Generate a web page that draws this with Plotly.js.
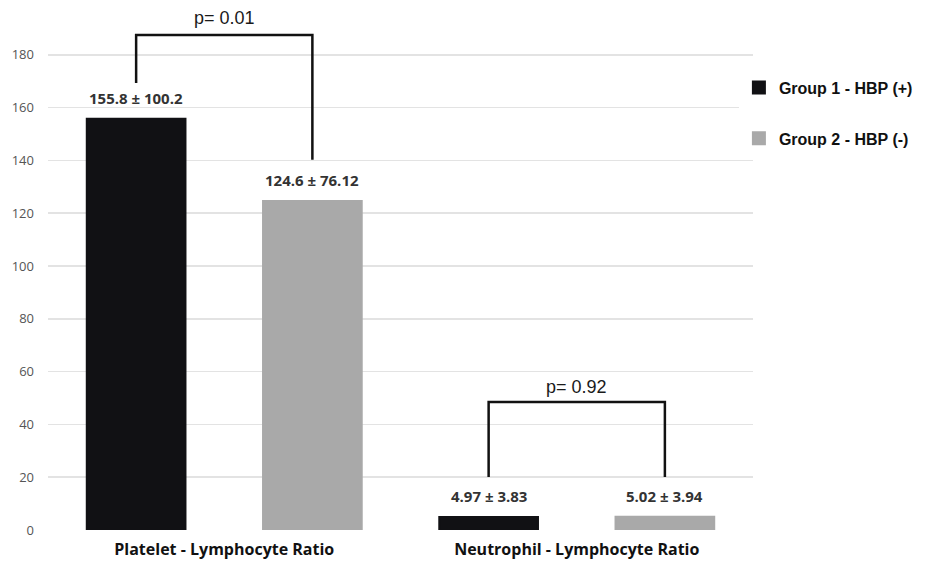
<!DOCTYPE html>
<html>
<head>
<meta charset="utf-8">
<script src="https://cdn.plot.ly/plotly-3.0.1.min.js"></script>
<style>html,body{margin:0;padding:0;background:#fff;}#chart{width:925px;height:567px;}</style>
</head>
<body>
<div id="chart"></div>
<script>
const categories = ["Platelet - Lymphocyte Ratio", "Neutrophil - Lymphocyte Ratio"];
const seriesNames = ["Group 1 - HBP (+)", "Group 2 - HBP (-)"];
const group1Mean = [155.8, 4.97];
const group1SD = ["100.2", "3.83"];
const group2Mean = [124.6, 5.02];
const group2SD = ["76.12", "3.94"];
const pValues = ["0.01", "0.92"];
const yTicks = [0, 20, 40, 60, 80, 100, 120, 140, 160, 180];

const colors = ["#111114", "#a9a9a9"];
const boldFont = "Open Sans, sans-serif";

const traces = [
  {type: "bar", name: "<b>" + seriesNames[0] + "</b>", x: categories, y: group1Mean,
   marker: {color: colors[0], line: {color: colors[0], width: 2}}, legendgroup: "g1", hoverinfo: "skip"},
  {type: "bar", name: "<b>" + seriesNames[1] + "</b>", x: categories, y: group2Mean,
   marker: {color: colors[1], line: {color: colors[1], width: 2}}, legendgroup: "g2", hoverinfo: "skip"}
];

const annotations = [];
const shapes = [];
const offset = 0.25;
categories.forEach((c, i) => {
  annotations.push({x: i - offset, y: group1Mean[i], xref: "x", yref: "y",
    text: "<b>" + group1Mean[i] + " ± " + group1SD[i] + "</b>",
    showarrow: false, yanchor: "bottom", yshift: 9,
    font: {family: boldFont, size: 15, color: "#333"}});
  annotations.push({x: i + offset, y: group2Mean[i], xref: "x", yref: "y",
    text: "<b>" + group2Mean[i] + " ± " + group2SD[i] + "</b>",
    showarrow: false, yanchor: "bottom", yshift: 9,
    font: {family: boldFont, size: 15, color: "#333"}});
});

// significance brackets (positions in data units)
const brackets = [
  {left: 169.3, right: 140.2, top: 187.5, label: 193.9},
  {left: 20.1, right: 20.1, top: 48.5, label: 54.2}
];
brackets.forEach((b, i) => {
  shapes.push({type: "path", xref: "x", yref: "y",
    path: "M " + (i - offset) + "," + b.left + " L " + (i - offset) + "," + b.top +
          " L " + (i + offset) + "," + b.top + " L " + (i + offset) + "," + b.right,
    line: {color: "#111", width: 2.5}});
  annotations.push({x: i, y: b.label, xref: "x", yref: "y", text: "p= " + pValues[i],
    showarrow: false, font: {family: "Liberation Sans, Arial, sans-serif", size: 18, color: "#1a1a1a"}});
});

const layout = {
  width: 925, height: 567,
  margin: {l: 48, r: 172, t: 2, b: 37},
  paper_bgcolor: "#fff", plot_bgcolor: "#fff",
  barmode: "group", bargap: 0, bargroupgap: 0.44,
  showlegend: true,
  legend: {x: 0.98, xanchor: "left", y: 0.87, yanchor: "top",
    traceorder: "grouped", tracegroupgap: 27,
    font: {family: "Liberation Sans, Arial, sans-serif", size: 16, color: "#111"},
    itemclick: false},
  xaxis: {type: "category", range: [-0.5, 1.5], showgrid: false, zeroline: false, showline: false,
    ticks: "", ticklabelstandoff: 8, tickfont: {family: boldFont, size: 16, color: "#111"},
    ticktext: categories.map(c => "<b>" + c + "</b>"), tickvals: categories, tickmode: "array"},
  yaxis: {range: [0, 200], tickvals: yTicks, ticktext: yTicks.map(String), tickmode: "array",
    showgrid: true, gridcolor: "#e3e3e3", gridwidth: 1.5, zeroline: false, showline: false,
    ticks: "", ticklabelstandoff: 13,
    tickfont: {family: "Open Sans, sans-serif", size: 13, color: "#555"}},
  shapes: shapes,
  annotations: annotations
};

Plotly.newPlot("chart", traces, layout, {staticPlot: true, displayModeBar: false});
</script>
</body>
</html>
